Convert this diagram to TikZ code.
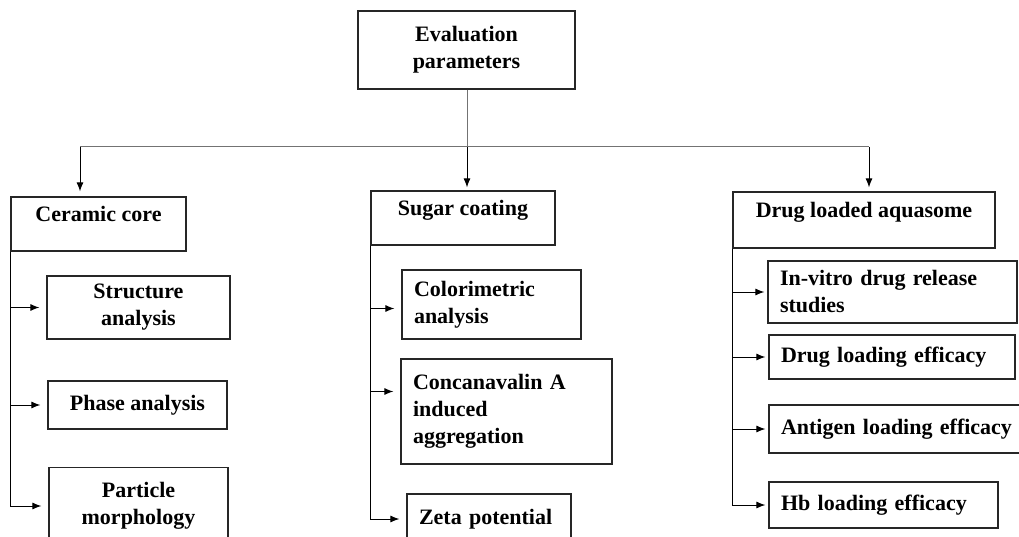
\documentclass[tikz,border=0pt]{standalone}
\usepackage{fontspec}
\setmainfont{Liberation Serif}
\usepackage{tikz}
\usetikzlibrary{arrows.meta,positioning}

\tikzset{
  box/.style={draw=black!85, line width=1.2pt, align=center, inner sep=6pt,
    font=\bfseries\fontsize{22}{27}\selectfont},
  head/.style={box, text height=15pt, text depth=20pt, inner ysep=9.5pt, minimum height=54pt},
  lbox/.style={box, align=left, inner xsep=12pt},
  conn/.style={line width=1pt, black},
  trunk/.style={line width=1pt, black!55}
}

\begin{document}
\begin{tikzpicture}[x=1pt,y=-1pt,>={Latex[length=9pt,width=7pt]}]
\useasboundingbox (0,0) rectangle (1019,537);
\clip (0,0) rectangle (1019,537);

% root
\node (eval) at (466.5,50) [box, minimum width=217pt, minimum height=78pt] {Evaluation\\parameters};

% three groups
\node (cer) at (98.5,224) [head, minimum width=175pt] {Ceramic core};
\node (sug) at (463,218) [head, minimum width=184pt] {Sugar coating};
\node (drg) at (864,220) [head, minimum width=262pt, minimum height=56pt] {Drug loaded aquasome};

% ceramic core
\node (str) at (138.5,307.5) [box, minimum width=183pt, minimum height=63pt] {Structure\\analysis};
\node (pha) at (137.5,405) [box, minimum width=179pt, minimum height=48pt] {Phase analysis};
\node (par) at (138.5,506) [box, minimum width=179pt, minimum height=77pt] {Particle\\morphology};

% sugar coating
\node (col) at (491.5,304.5) [lbox, text width=155pt, minimum height=69pt] {Colorimetric\\analysis};
\node (con) at (506.5,411.5) [lbox, text width=187pt, minimum height=105pt] {Concanavalin A\\induced\\aggregation};
\node (zet) at (489,519) [lbox, text width=140pt, minimum height=50pt] {Zeta potential};

% drug loaded aquasome
\node (inv) at (892.5,292) [lbox, text width=225pt, minimum height=62pt] {In-vitro drug release\\studies};
\node (dle) at (892,357) [lbox, text width=222pt, minimum height=44pt] {Drug loading efficacy};
\node (ant) at (895,429) [lbox, text width=228pt, minimum height=48pt] {\mbox{Antigen loading efficacy}};
\node (hbl) at (883.5,505) [lbox, text width=205pt, minimum height=46pt] {Hb loading efficacy};

% top connectors
\coordinate (hub) at (467,147);
\coordinate (hl) at (80,147);
\coordinate (hr) at (869,147);
\draw[trunk] (eval.south -| hub) -- (hub);
\draw[trunk] (hl) -- (hr);
\draw[conn,->,shorten >=5pt] (hl) -- (hl |- cer.north);
\draw[conn,->,shorten >=3pt] (hub) -- (hub |- sug.north);
\draw[conn,->,shorten >=4pt] (hr) -- (hr |- drg.north);

% side connectors
\foreach \c in {str,pha,par}
  \draw[conn,->,shorten >=7pt] (cer.south west) |- (\c.west);
\draw[conn,->,shorten >=7pt] (sug.south west) |- ([yshift=-4pt]col.west);
\draw[conn,->,shorten >=7pt] (sug.south west) |- ([yshift=20pt]con.west);
\draw[conn,->,shorten >=7pt] (sug.south west) |- (zet.west);
\foreach \c in {inv,dle,ant,hbl}
  \draw[conn,->,shorten >=3pt] (drg.south west) |- (\c.west);

\end{tikzpicture}
\end{document}
